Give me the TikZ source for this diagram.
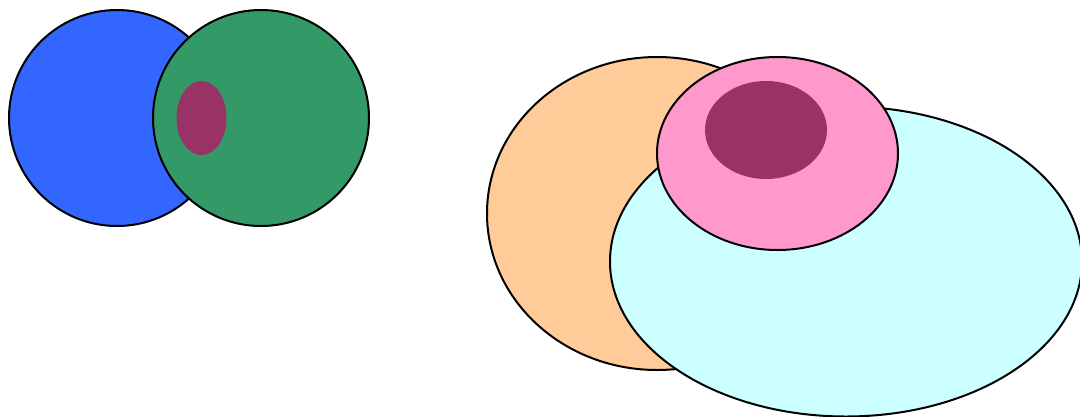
\documentclass[tikz,border=0pt]{standalone}
\definecolor{cblue}{HTML}{3366FF}
\definecolor{cgreen}{HTML}{339966}
\definecolor{cplum}{HTML}{993366}
\definecolor{corange}{HTML}{FFCC99}
\definecolor{ccyan}{HTML}{CCFFFF}
\definecolor{cpink}{HTML}{FF99CC}
\begin{document}
\begin{tikzpicture}[x=1pt,y=-1pt,
  blob/.style={draw=black,line width=2pt},
  spot/.style={fill=cplum,draw=none}]
\useasboundingbox (0,0) rectangle (1080,416);
\clip (0,0) rectangle (1080,416);
% left group
\filldraw[blob,fill=cblue] (117,118) circle[radius=108];
\filldraw[blob,fill=cgreen] (261,118) circle[radius=108];
\fill[spot] (201.5,118) ellipse[x radius=25,y radius=37];
% right group
\filldraw[blob,fill=corange] (657,213.5) ellipse[x radius=170,y radius=156.5];
\filldraw[blob,fill=ccyan] (846,261.5) ellipse[x radius=236,y radius=155];
\filldraw[blob,fill=cpink] (777.5,153.5) ellipse[x radius=120.5,y radius=96.5];
\fill[spot] (766,130) ellipse[x radius=61,y radius=49];
\end{tikzpicture}
\end{document}
